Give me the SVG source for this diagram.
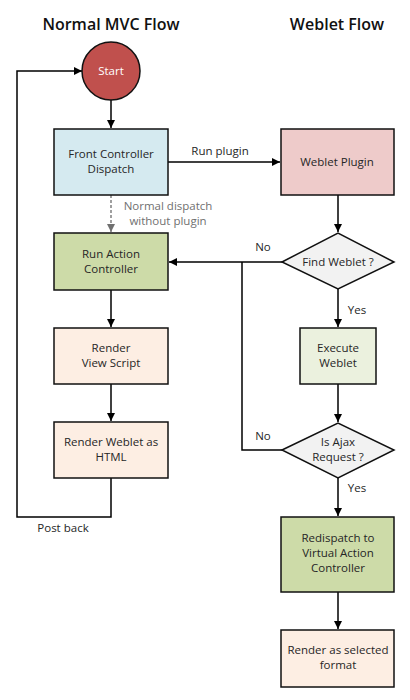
<svg xmlns="http://www.w3.org/2000/svg" width="410" height="700" viewBox="0 0 410 700">
<style>
text{font-family:"Open Sans","Noto Sans","DejaVu Sans",sans-serif;font-size:11.5px;fill:#262626;text-anchor:middle}
.title{font-size:16px;font-weight:600;fill:#111}
.box{stroke:#111;stroke-width:1.5}
.ln{stroke:#000;stroke-width:1.5;fill:none}
.dash{stroke:#808080;stroke-width:1.5;fill:none;stroke-dasharray:3,2}
.gray{fill:#707070}
</style>
<defs>
<marker id="ah" markerWidth="10" markerHeight="10" refX="8" refY="4" orient="auto" markerUnits="userSpaceOnUse">
<path d="M0,0 L8,4 L0,8 Z" fill="#000"/>
</marker>
<marker id="ahg" markerWidth="10" markerHeight="10" refX="8" refY="4" orient="auto" markerUnits="userSpaceOnUse">
<path d="M0,0 L8,4 L0,8 Z" fill="#707070"/>
</marker>
</defs>
<rect width="410" height="700" fill="#fff"/>
<text class="title" x="111" y="30">Normal MVC Flow</text>
<text class="title" x="337" y="30">Weblet Flow</text>
<g id="connectors">
<path class="ln" d="M111,100 V128" marker-end="url(#ah)"/>
<path class="ln" d="M168,162 H280" marker-end="url(#ah)"/>
<text x="220" y="155">Run plugin</text>
<path class="dash" d="M111,195 V232" marker-end="url(#ahg)"/>
<text class="gray" x="168" y="210">Normal dispatch</text>
<text class="gray" x="168" y="225">without plugin</text>
<path class="ln" d="M338,195 V232" marker-end="url(#ah)"/>
<path class="ln" d="M282,262 H169" marker-end="url(#ah)"/>
<text x="263" y="251">No</text>
<path class="ln" d="M282,450 H242 V262"/>
<text x="263" y="440">No</text>
<path class="ln" d="M338,289 V327" marker-end="url(#ah)"/>
<text x="357" y="314">Yes</text>
<path class="ln" d="M111,290 V327" marker-end="url(#ah)"/>
<path class="ln" d="M111,384 V421" marker-end="url(#ah)"/>
<path class="ln" d="M338,384 V422" marker-end="url(#ah)"/>
<path class="ln" d="M338,478 V516" marker-end="url(#ah)"/>
<text x="357" y="492">Yes</text>
<path class="ln" d="M338,592 V629" marker-end="url(#ah)"/>
<path class="ln" d="M111,478 V517 H17 V71 H82" marker-end="url(#ah)"/>
<text x="63" y="532">Post back</text>
</g>
<g id="start">
<circle class="box" cx="111" cy="71" r="29" fill="#c0504d"/>
<text x="111" y="75" style="fill:#fff">Start</text>
</g>
<g id="front-controller">
<rect class="box" x="54" y="129" width="114" height="66" fill="#d5eaf0"/>
<text x="111" y="158">Front Controller</text>
<text x="111" y="173">Dispatch</text>
</g>
<g id="weblet-plugin">
<rect class="box" x="281" y="129" width="113" height="66" fill="#eecbca"/>
<text x="337" y="166">Weblet Plugin</text>
</g>
<g id="run-action">
<rect class="box" x="54" y="233" width="114" height="57" fill="#cddba8"/>
<text x="111" y="258">Run Action</text>
<text x="111" y="273">Controller</text>
</g>
<g id="find-weblet">
<path class="box" d="M282,262 L338,233 L394,262 L338,289 Z" fill="#f2f2f2"/>
<text x="338" y="266">Find Weblet ?</text>
</g>
<g id="render-view">
<rect class="box" x="54" y="328" width="114" height="56" fill="#fdeee3"/>
<text x="111" y="352">Render</text>
<text x="111" y="367">View Script</text>
</g>
<g id="execute-weblet">
<rect class="box" x="300" y="328" width="76" height="56" fill="#ebf1de"/>
<text x="338" y="352">Execute</text>
<text x="338" y="367">Weblet</text>
</g>
<g id="render-html">
<rect class="box" x="54" y="422" width="114" height="56" fill="#fdeee3"/>
<text x="111" y="446">Render Weblet as</text>
<text x="111" y="461">HTML</text>
</g>
<g id="is-ajax">
<path class="box" d="M282,450 L338,423 L394,450 L338,478 Z" fill="#f2f2f2"/>
<text x="338" y="446">Is Ajax</text>
<text x="338" y="461">Request ?</text>
</g>
<g id="redispatch">
<rect class="box" x="281" y="517" width="113" height="75" fill="#cddba8"/>
<text x="338" y="542">Redispatch to</text>
<text x="338" y="557">Virtual Action</text>
<text x="338" y="572">Controller</text>
</g>
<g id="render-format">
<rect class="box" x="281" y="630" width="113" height="57" fill="#fdeee3"/>
<text x="338" y="654">Render as selected</text>
<text x="338" y="669">format</text>
</g>
</svg>
